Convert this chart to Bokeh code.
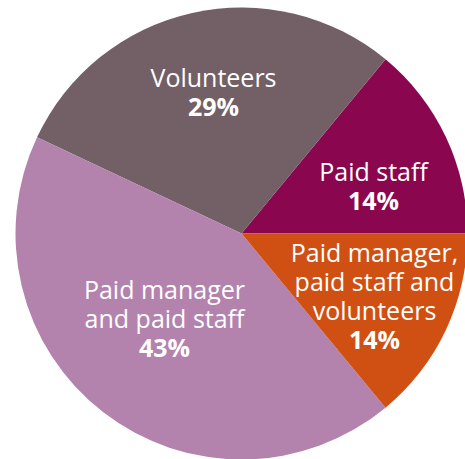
import math
from bokeh.plotting import figure
from bokeh.models import Range1d, ColumnDataSource
from bokeh.core.properties import value
from bokeh.embed import file_html
from bokeh.resources import INLINE

# ---- data ----
categories = ["Paid staff", "Volunteers", "Paid manager and paid staff",
              "Paid manager, paid staff and volunteers"]
shares = [14, 29, 43, 14]
colors = ["#8a0750", "#735f66", "#b383ae", "#d05013"]
label_lines = [["Paid staff"], ["Volunteers"], ["Paid manager", "and paid staff"],
               ["Paid manager,", "paid staff and", "volunteers"]]

# ---- layout ----
W, H = 465, 459
cx, cy, R = 241, 226, 226
# label anchor (center x, baseline of the bold percentage line) in pixels from pie center
label_anchor = [(132, 34), (-28, 128), (-77, -113), (133, -105)]
line_gap = 29
font = "Open Sans"
fsize = "25px"

p = figure(width=W, height=H, output_backend="svg", toolbar_location=None,
           x_range=Range1d(0, W), y_range=Range1d(0, H), min_border=0)
p.axis.visible = False
p.grid.visible = False
p.outline_line_color = None
p.background_fill_color = None
p.border_fill_color = None

total = sum(shares)
starts, ends = [], []
acc = 0.0
for s in shares:
    starts.append(2 * math.pi * acc / total)
    acc += s
    ends.append(2 * math.pi * acc / total)

src = ColumnDataSource(dict(start=starts, end=ends, color=colors, cat=categories))
p.wedge(x=cx, y=cy, radius=R, start_angle="start", end_angle="end",
        fill_color="color", line_color=None, source=src)

# text lines
nx, ny, ntext = [], [], []
bx, by, btext = [], [], []
for lines, share, (dx, dy) in zip(label_lines, shares, label_anchor):
    x = cx + dx
    ybase = cy + dy
    bx.append(x); by.append(ybase); btext.append(f"{share}%")
    n = len(lines)
    for i, t in enumerate(lines):
        nx.append(x)
        ny.append(ybase + (n - i) * line_gap)
        ntext.append(t)

p.text(x=nx, y=ny, text=ntext, text_align="center", text_baseline="alphabetic",
       text_color="white", text_font=value(font), text_font_size=fsize)
p.text(x=bx, y=by, text=btext, text_align="center", text_baseline="alphabetic",
       text_color="white", text_font=value(font), text_font_size=fsize,
       text_font_style="bold")

open("out.html", "w").write(file_html(p, INLINE))
